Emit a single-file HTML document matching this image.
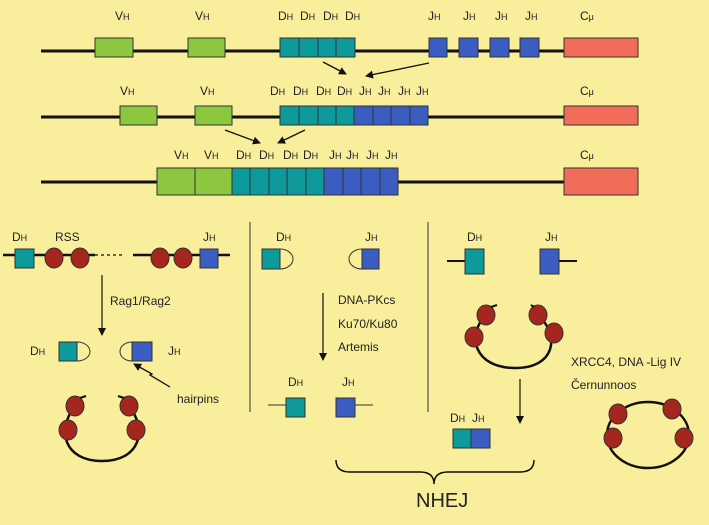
<!DOCTYPE html>
<html><head><meta charset="utf-8"><style>
html,body{margin:0;padding:0;background:#f8ee9c}
svg{display:block}
text{font-family:"Liberation Sans",sans-serif;fill:#222}
.l{font-size:12px}
.s{font-size:9px}
</style></head><body>
<svg width="709" height="525" viewBox="0 0 709 525" xmlns="http://www.w3.org/2000/svg">
<defs><marker id="a" markerWidth="8" markerHeight="8" refX="7" refY="4" orient="auto" markerUnits="userSpaceOnUse"><path d="M0,0 L8,4 L0,8 z" fill="#111"/></marker></defs>
<rect width="709" height="525" fill="#f8ee9c"/>
<g stroke="#333" stroke-width="1">
<line x1="41" y1="51" x2="564" y2="51" stroke="#111" stroke-width="3"/>
<rect x="95" y="38" width="38" height="19" fill="#8dc63f"/>
<rect x="188" y="38" width="37" height="19" fill="#8dc63f"/>
<rect x="280" y="38" width="19" height="19" fill="#0e9a9a"/><rect x="299" y="38" width="19" height="19" fill="#0e9a9a"/><rect x="318" y="38" width="18" height="19" fill="#0e9a9a"/><rect x="336" y="38" width="19" height="19" fill="#0e9a9a"/>
<rect x="429" y="38" width="18" height="19" fill="#3b5cc0"/><rect x="459" y="38" width="19" height="19" fill="#3b5cc0"/><rect x="490" y="38" width="19" height="19" fill="#3b5cc0"/><rect x="520" y="38" width="19" height="19" fill="#3b5cc0"/>
<rect x="564" y="38" width="74" height="19" fill="#f26c5a"/>
<line x1="41" y1="117" x2="564" y2="117" stroke="#111" stroke-width="3"/>
<rect x="120" y="106" width="37" height="19" fill="#8dc63f"/>
<rect x="195" y="106" width="37" height="19" fill="#8dc63f"/>
<rect x="280" y="106" width="19" height="19" fill="#0e9a9a"/><rect x="299" y="106" width="19" height="19" fill="#0e9a9a"/><rect x="318" y="106" width="18" height="19" fill="#0e9a9a"/><rect x="336" y="106" width="18" height="19" fill="#0e9a9a"/>
<rect x="354" y="106" width="19" height="19" fill="#3b5cc0"/><rect x="373" y="106" width="18" height="19" fill="#3b5cc0"/><rect x="391" y="106" width="19" height="19" fill="#3b5cc0"/><rect x="410" y="106" width="18" height="19" fill="#3b5cc0"/>
<rect x="564" y="106" width="74" height="19" fill="#f26c5a"/>
<line x1="41" y1="182" x2="564" y2="182" stroke="#111" stroke-width="3"/>
<rect x="157" y="168" width="38" height="27" fill="#8dc63f"/><rect x="195" y="168" width="37" height="27" fill="#8dc63f"/>
<rect x="232" y="168" width="18" height="27" fill="#0e9a9a"/><rect x="250" y="168" width="19" height="27" fill="#0e9a9a"/><rect x="269" y="168" width="18" height="27" fill="#0e9a9a"/><rect x="287" y="168" width="19" height="27" fill="#0e9a9a"/><rect x="306" y="168" width="18" height="27" fill="#0e9a9a"/>
<rect x="324" y="168" width="19" height="27" fill="#3b5cc0"/><rect x="343" y="168" width="18" height="27" fill="#3b5cc0"/><rect x="361" y="168" width="19" height="27" fill="#3b5cc0"/><rect x="380" y="168" width="18" height="27" fill="#3b5cc0"/>
<rect x="564" y="168" width="74" height="27" fill="#f26c5a"/>
</g>
<g stroke="#111" stroke-width="1.3" marker-end="url(#a)">
<line x1="323" y1="62" x2="346" y2="74"/><line x1="429" y1="63" x2="366" y2="76"/>
<line x1="225" y1="130" x2="260" y2="143"/><line x1="305" y1="130" x2="278" y2="143"/>
</g>
<g class="l">
<text x="115" y="20">V<tspan class="s">H</tspan></text><text x="195" y="20">V<tspan class="s">H</tspan></text>
<text x="278" y="20">D<tspan class="s">H</tspan></text><text x="300" y="20">D<tspan class="s">H</tspan></text><text x="323" y="20">D<tspan class="s">H</tspan></text><text x="345" y="20">D<tspan class="s">H</tspan></text>
<text x="428" y="20">J<tspan class="s">H</tspan></text><text x="463" y="20">J<tspan class="s">H</tspan></text><text x="495" y="20">J<tspan class="s">H</tspan></text><text x="525" y="20">J<tspan class="s">H</tspan></text>
<text x="580" y="20">C<tspan class="s">μ</tspan></text>
<text x="120" y="95">V<tspan class="s">H</tspan></text><text x="200" y="95">V<tspan class="s">H</tspan></text>
<text x="270" y="95">D<tspan class="s">H</tspan></text><text x="293" y="95">D<tspan class="s">H</tspan></text><text x="316" y="95">D<tspan class="s">H</tspan></text><text x="337" y="95">D<tspan class="s">H</tspan></text>
<text x="359" y="95">J<tspan class="s">H</tspan></text><text x="378" y="95">J<tspan class="s">H</tspan></text><text x="398" y="95">J<tspan class="s">H</tspan></text><text x="416" y="95">J<tspan class="s">H</tspan></text>
<text x="580" y="95">C<tspan class="s">μ</tspan></text>
<text x="174" y="159">V<tspan class="s">H</tspan></text><text x="204" y="159">V<tspan class="s">H</tspan></text>
<text x="236" y="159">D<tspan class="s">H</tspan></text><text x="259" y="159">D<tspan class="s">H</tspan></text><text x="283" y="159">D<tspan class="s">H</tspan></text><text x="303" y="159">D<tspan class="s">H</tspan></text>
<text x="329" y="159">J<tspan class="s">H</tspan></text><text x="346" y="159">J<tspan class="s">H</tspan></text><text x="366" y="159">J<tspan class="s">H</tspan></text><text x="385" y="159">J<tspan class="s">H</tspan></text>
<text x="580" y="159">C<tspan class="s">μ</tspan></text>
</g>
<line x1="250" y1="222" x2="250" y2="412" stroke="#333" stroke-width="1"/>
<line x1="428" y1="222" x2="428" y2="412" stroke="#333" stroke-width="1"/>
<line x1="3" y1="255" x2="95" y2="255" stroke="#111" stroke-width="2.5"/>
<line x1="95" y1="255" x2="122" y2="255" stroke="#333" stroke-width="1.5" stroke-dasharray="3,3"/>
<line x1="133" y1="255" x2="230" y2="255" stroke="#111" stroke-width="2.5"/>
<g stroke="#333" stroke-width="1">
<rect x="15" y="249" width="19" height="19" fill="#0e9a9a"/>
<rect x="200" y="249" width="18" height="19" fill="#3b5cc0"/>
<g fill="#a4261f"><ellipse cx="54" cy="258" rx="9" ry="10"/><ellipse cx="80" cy="258" rx="9" ry="10"/><ellipse cx="160" cy="258" rx="9" ry="10"/><ellipse cx="183" cy="258" rx="9" ry="10"/></g>
<rect x="59" y="342" width="18" height="19" fill="#0e9a9a"/><path d="M77,342 A13,9.5 0 0 1 77,361" fill="none"/><line x1="77" y1="342" x2="77" y2="361"/>
<rect x="132" y="342" width="20" height="19" fill="#3b5cc0"/><path d="M132,342 A12,9.5 0 0 0 132,361" fill="none"/>
</g>
<line x1="102" y1="275" x2="102" y2="335" stroke="#111" stroke-width="1.2" marker-end="url(#a)"/>
<path d="M170,387 L150,375 L152,374 L134,364" fill="none" stroke="#111" stroke-width="1.3" marker-end="url(#a)"/>
<path d="M75,406 C56,430 64,461 102,461 C140,461 148,430 129,406" fill="none" stroke="#111" stroke-width="2.5"/>
<g stroke="#333" stroke-width="1" fill="#a4261f">
<ellipse cx="75" cy="406" rx="9" ry="10"/><ellipse cx="68" cy="430" rx="9" ry="10"/><ellipse cx="129" cy="406" rx="9" ry="10"/><ellipse cx="136" cy="430" rx="9" ry="10"/>
</g>
<path d="M80,398 L86,396 M124,398 L118,396" stroke="#111" stroke-width="2"/>
<g class="l">
<text x="12" y="241">D<tspan class="s">H</tspan></text><text x="55" y="241">RSS</text><text x="203" y="241">J<tspan class="s">H</tspan></text>
<text x="110" y="305">Rag1/Rag2</text>
<text x="30" y="355">D<tspan class="s">H</tspan></text><text x="168" y="355">J<tspan class="s">H</tspan></text>
<text x="177" y="403">hairpins</text>
</g>
<g stroke="#333" stroke-width="1">
<rect x="262" y="249" width="18" height="20" fill="#0e9a9a"/><path d="M280,249 A13,10 0 0 1 280,269" fill="none"/><line x1="280" y1="249" x2="280" y2="269"/>
<rect x="362" y="249" width="17" height="20" fill="#3b5cc0"/><path d="M362,249 A13,10 0 0 0 362,269" fill="none"/>
<line x1="268" y1="405" x2="286" y2="405"/><line x1="355" y1="405" x2="373" y2="405"/>
<rect x="286" y="398" width="19" height="19" fill="#0e9a9a"/><rect x="336" y="398" width="19" height="19" fill="#3b5cc0"/>
</g>
<line x1="323" y1="293" x2="323" y2="360" stroke="#111" stroke-width="1.2" marker-end="url(#a)"/>
<g class="l">
<text x="276" y="241">D<tspan class="s">H</tspan></text><text x="365" y="241">J<tspan class="s">H</tspan></text>
<text x="338" y="304">DNA-PKcs</text><text x="338" y="328">Ku70/Ku80</text><text x="338" y="351">Artemis</text>
<text x="288" y="386">D<tspan class="s">H</tspan></text><text x="342" y="386">J<tspan class="s">H</tspan></text>
</g>
<line x1="447" y1="261" x2="465" y2="261" stroke="#111" stroke-width="2"/><line x1="559" y1="261" x2="577" y2="261" stroke="#111" stroke-width="2"/>
<g stroke="#333" stroke-width="1">
<rect x="465" y="249" width="19" height="25" fill="#0e9a9a"/><rect x="540" y="249" width="19" height="25" fill="#3b5cc0"/>
<rect x="453" y="429" width="18" height="19" fill="#0e9a9a"/><rect x="471" y="429" width="19" height="19" fill="#3b5cc0"/>
</g>
<path d="M486,315 C466,335 474,368 515,368 C556,368 560,335 538,315" fill="none" stroke="#111" stroke-width="2.5"/>
<g stroke="#333" stroke-width="1" fill="#a4261f">
<ellipse cx="486" cy="315" rx="9" ry="10"/><ellipse cx="474" cy="337" rx="9" ry="10"/><ellipse cx="538" cy="315" rx="9" ry="10"/><ellipse cx="554" cy="333" rx="9" ry="10"/>
</g>
<path d="M491,307 L497,305 M534,307 L531,305" stroke="#111" stroke-width="2"/>
<line x1="520" y1="379" x2="520" y2="423" stroke="#111" stroke-width="1.2" marker-end="url(#a)"/>
<ellipse cx="648" cy="435" rx="41" ry="33" fill="none" stroke="#111" stroke-width="2.5"/>
<g stroke="#333" stroke-width="1" fill="#a4261f">
<ellipse cx="618" cy="414" rx="9" ry="10"/><ellipse cx="613" cy="438" rx="9" ry="10"/><ellipse cx="672" cy="409" rx="9" ry="10"/><ellipse cx="684" cy="438" rx="9" ry="10"/>
</g>
<g class="l">
<text x="467" y="241">D<tspan class="s">H</tspan></text><text x="545" y="241">J<tspan class="s">H</tspan></text>
<text x="450" y="422">D<tspan class="s">H</tspan></text><text x="472" y="422">J<tspan class="s">H</tspan></text>
<text x="571" y="366">XRCC4, DNA -Lig IV</text><text x="571" y="389">Černunnoos</text>
</g>
<path d="M336,460 Q336,472 350,472 L420,472 Q434,472 434,484 Q434,472 448,472 L520,472 Q534,472 534,460" fill="none" stroke="#111" stroke-width="1.5"/>
<text x="416" y="507" style="font-size:20px">NHEJ</text>
</svg>
</body></html>
